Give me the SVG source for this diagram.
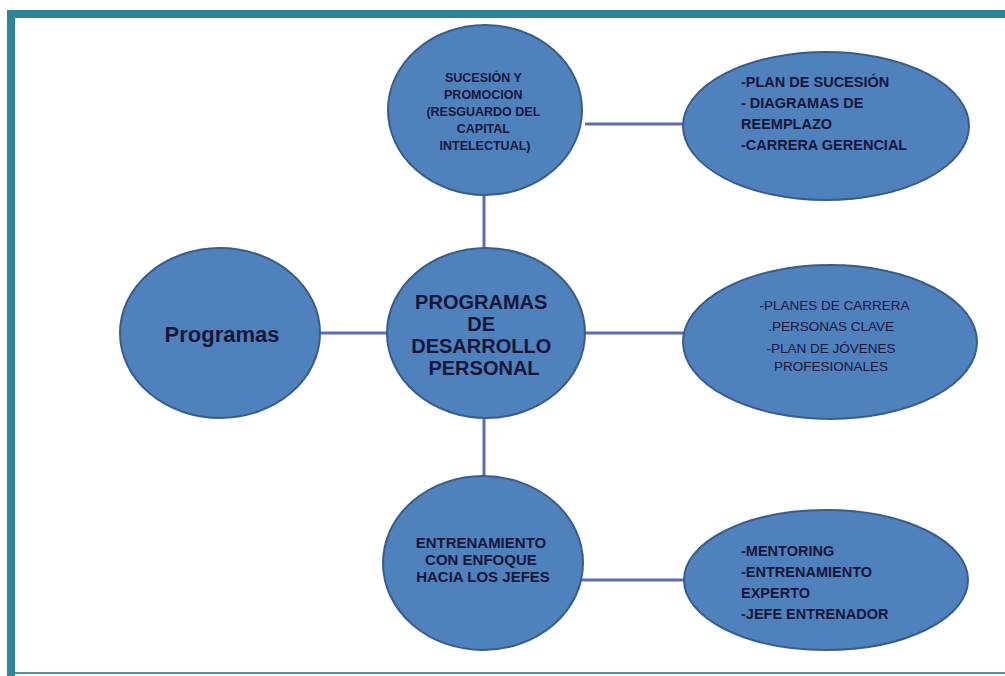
<svg xmlns="http://www.w3.org/2000/svg" width="1005" height="676" viewBox="0 0 1005 676">
  <style>
    .shape { fill: #4F81BD; stroke: #385D8A; stroke-width: 2; }
    .link { stroke: #5A6DB3; stroke-width: 3; fill: none; }
    .lbl { font-family: "Liberation Sans", Arial, sans-serif; font-weight: bold; fill: #16163A; }
    .mid { text-anchor: middle; }
    .light { font-weight: normal; }
  </style>

  <!-- page frame -->
  <rect x="0" y="0" width="1005" height="676" fill="#FFFFFF"/>
  <rect x="7" y="10" width="998" height="8" fill="#2F8399"/>
  <rect x="7" y="10" width="8" height="666" fill="#2F8399"/>
  <rect x="15" y="672" width="990" height="2" fill="#4A93A8"/>

  <!-- connectors -->
  <g id="connectors">
    <line class="link" x1="585" y1="124" x2="684" y2="124"/>
    <line class="link" x1="484" y1="195" x2="484" y2="249"/>
    <line class="link" x1="320" y1="333" x2="388" y2="333"/>
    <line class="link" x1="584" y1="333" x2="684" y2="333"/>
    <line class="link" x1="484" y1="418" x2="484" y2="477"/>
    <line class="link" x1="582" y1="580" x2="684" y2="580"/>
  </g>

  <g id="sucesion">
    <ellipse class="shape" cx="485" cy="110" rx="97" ry="85"/>
    <text class="lbl mid" font-size="12.5">
      <tspan x="485" y="82">SUCESIÓN Y</tspan>
      <tspan x="485" y="99">PROMOCION</tspan>
      <tspan x="485" y="116">(RESGUARDO DEL</tspan>
      <tspan x="485" y="133">CAPITAL</tspan>
      <tspan x="485" y="150">INTELECTUAL)</tspan>
    </text>
  </g>

  <g id="sucesion-detalle">
    <ellipse class="shape" cx="826" cy="126" rx="143" ry="74"/>
    <text class="lbl" font-size="14.5">
      <tspan x="741" y="87">-PLAN DE SUCESIÓN</tspan>
      <tspan x="741" y="108">- DIAGRAMAS DE</tspan>
      <tspan x="741" y="129">REEMPLAZO</tspan>
      <tspan x="741" y="150">-CARRERA GERENCIAL</tspan>
    </text>
  </g>

  <g id="programas">
    <ellipse class="shape" cx="220" cy="333" rx="100" ry="85"/>
    <text class="lbl mid" font-size="22" x="222" y="342">Programas</text>
  </g>

  <g id="desarrollo">
    <ellipse class="shape" cx="486" cy="333" rx="99" ry="85"/>
    <text class="lbl mid" font-size="20">
      <tspan x="484" y="309">PROGRAMAS</tspan>
      <tspan x="484" y="331">DE</tspan>
      <tspan x="484" y="353">DESARROLLO</tspan>
      <tspan x="484" y="375">PERSONAL</tspan>
    </text>
  </g>

  <g id="desarrollo-detalle">
    <ellipse class="shape" cx="830" cy="342" rx="147" ry="77"/>
    <text class="lbl light mid" font-size="13.5">
      <tspan x="836" y="310">-PLANES DE CARRERA</tspan>
      <tspan x="833" y="331">.PERSONAS CLAVE</tspan>
      <tspan x="833" y="353">-PLAN DE JÓVENES</tspan>
      <tspan x="831" y="371">PROFESIONALES</tspan>
    </text>
  </g>

  <g id="entrenamiento">
    <ellipse class="shape" cx="483" cy="563" rx="100" ry="87"/>
    <text class="lbl mid" font-size="15">
      <tspan x="483" y="548">ENTRENAMIENTO</tspan>
      <tspan x="483" y="565">CON ENFOQUE</tspan>
      <tspan x="483" y="582">HACIA LOS JEFES</tspan>
    </text>
  </g>

  <g id="entrenamiento-detalle">
    <ellipse class="shape" cx="826" cy="580" rx="142" ry="70"/>
    <text class="lbl" font-size="14.5">
      <tspan x="741" y="556">-MENTORING</tspan>
      <tspan x="741" y="577">-ENTRENAMIENTO</tspan>
      <tspan x="741" y="598">EXPERTO</tspan>
      <tspan x="741" y="619">-JEFE ENTRENADOR</tspan>
    </text>
  </g>
</svg>
